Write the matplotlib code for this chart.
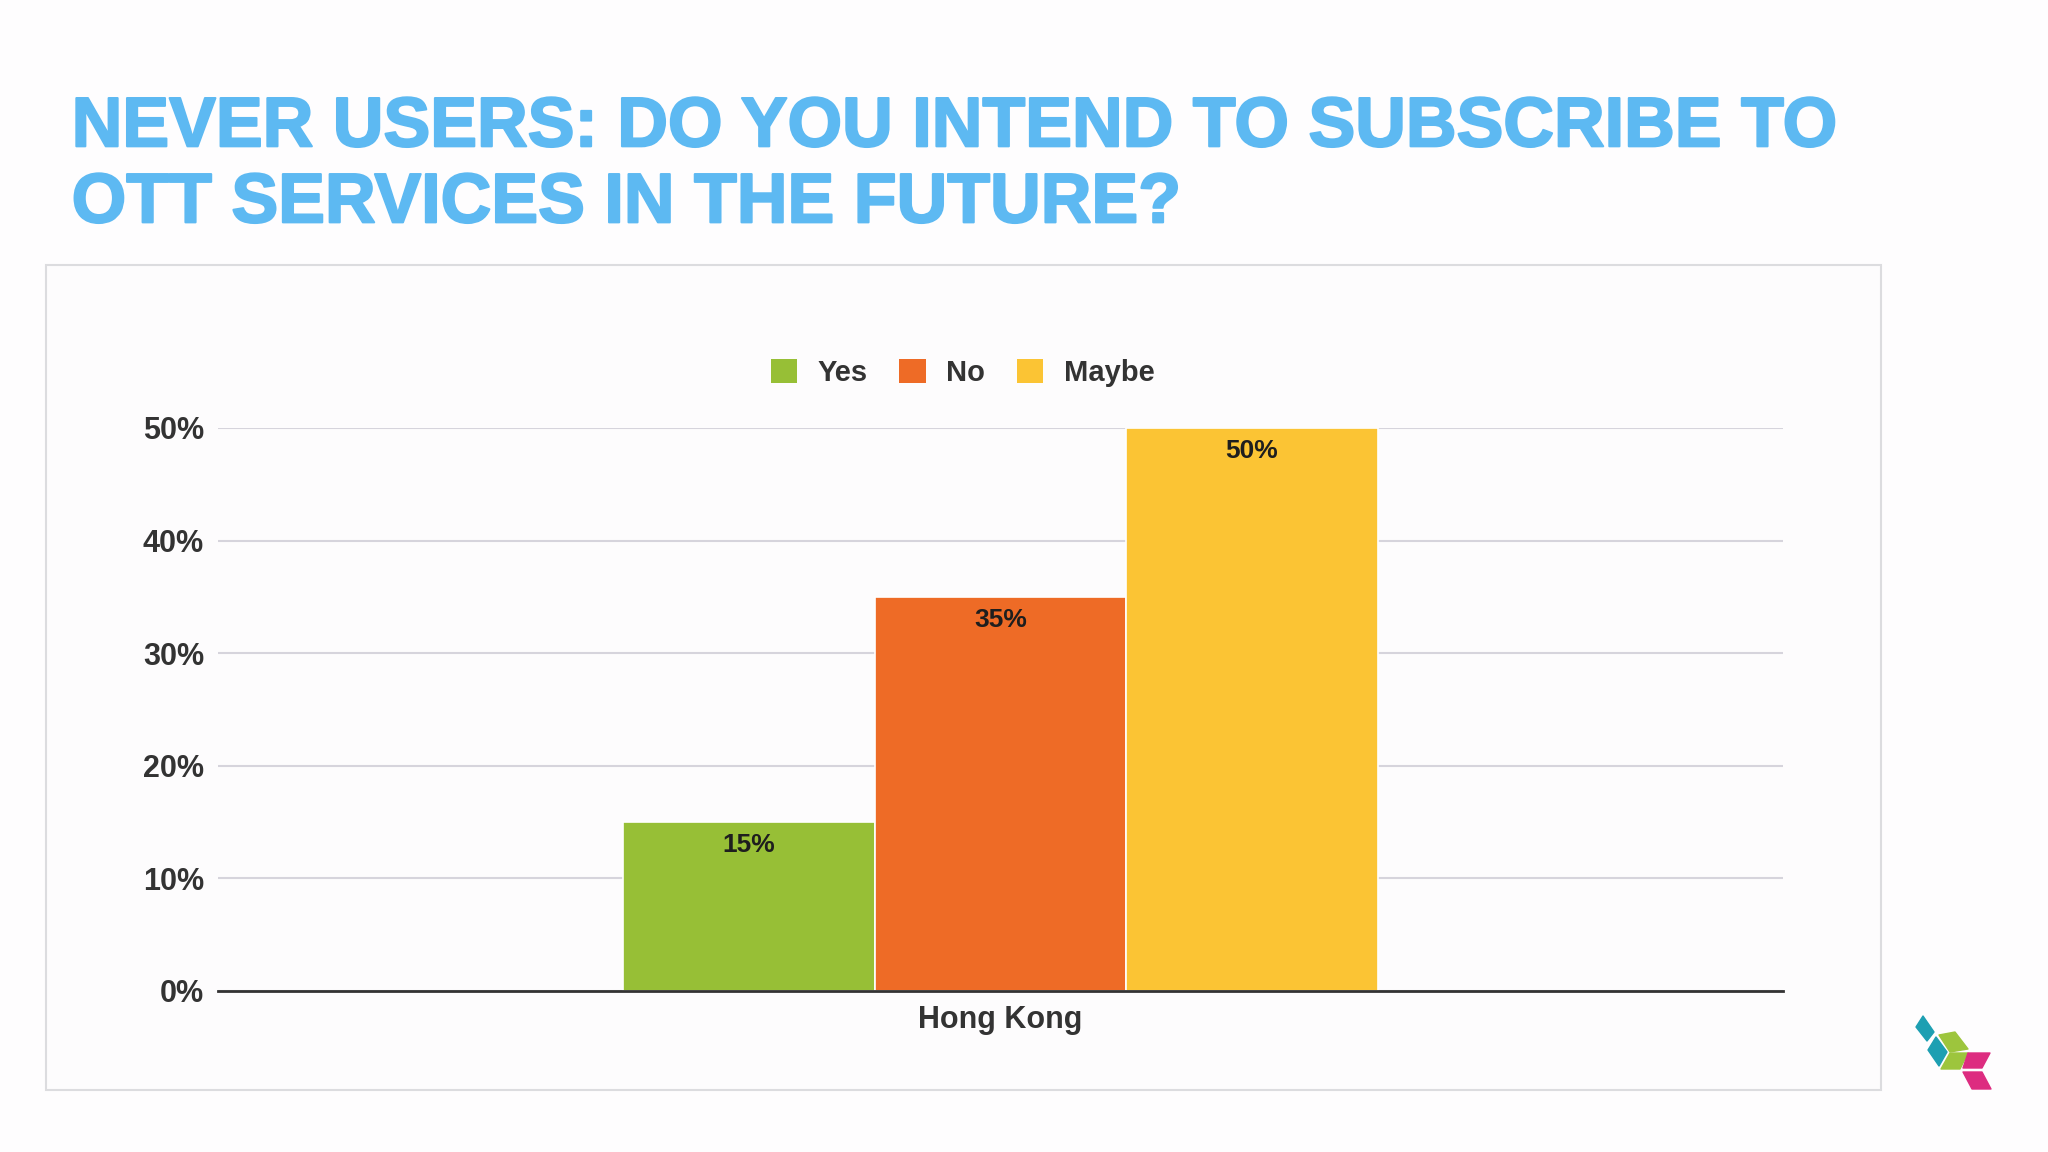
import matplotlib
matplotlib.use('agg')
import matplotlib.pyplot as plt
import matplotlib.patheffects as pe
from matplotlib.patches import Rectangle, Polygon, Patch
from matplotlib.ticker import FuncFormatter

plt.rcParams['font.family'] = ['Liberation Sans', 'DejaVu Sans']

# data
region = 'Hong Kong'
answers = ['Yes', 'No', 'Maybe']
shares = [0.15, 0.35, 0.50]
colors = ['#97bf36', '#ee6b26', '#fbc434']
yticks = [0, 0.1, 0.2, 0.3, 0.4, 0.5]

TEXT = '#333333'
BLUE = '#5db9f2'

fig = plt.figure(figsize=(20.48, 11.52), dpi=100, facecolor='#fefdfe')

# chart frame
fig.patches.append(Rectangle((0.0225, 0.0538), 0.896, 0.7162, transform=fig.transFigure,
                             facecolor='#fdfcfd', edgecolor='#dcdcdf', lw=1.5, zorder=-5))

# title
heavy = [pe.withStroke(linewidth=1.5, foreground=BLUE)]
fig.text(0.035, 0.873, 'NEVER USERS: DO YOU INTEND TO SUBSCRIBE TO', fontsize=50.5,
         fontweight='bold', color=BLUE, va='baseline', ha='left', path_effects=heavy)
fig.text(0.035, 0.807, 'OTT SERVICES IN THE FUTURE?', fontsize=50.5,
         fontweight='bold', color=BLUE, va='baseline', ha='left', path_effects=heavy)

ax = fig.add_axes([0.1064, 0.1398, 0.7642, 0.4887])
ax.set_facecolor('none')

w = 0.1607
xs = [-w, 0, w]
bars = ax.bar(xs, shares, width=w, color=colors, edgecolor='white', linewidth=1.2, zorder=3)
for x, v in zip(xs, shares):
    ax.text(x, v - 0.01, '{:.0f}%'.format(v * 100), ha='center', va='top',
            fontsize=19, fontweight='bold', color='#1e1e1e', zorder=4)

ax.set_xlim(-0.5, 0.5)
ax.set_ylim(0, 0.5)
ax.set_yticks(yticks)
ax.yaxis.set_major_formatter(FuncFormatter(lambda v, _: '{:.0f}%'.format(v * 100)))
ax.set_xticks([0])
ax.set_xticklabels([region])
ax.tick_params(axis='both', length=0, labelsize=22, labelcolor=TEXT)
ax.tick_params(axis='y', pad=10)
ax.tick_params(axis='x', pad=10)
for lab in ax.get_xticklabels() + ax.get_yticklabels():
    lab.set_fontweight('bold')

ax.grid(axis='y', color='#d6d4dc', lw=1.5, zorder=0)
for s in ['top', 'right', 'left']:
    ax.spines[s].set_visible(False)
ax.spines['bottom'].set_color('#333333')
ax.spines['bottom'].set_linewidth(2)
ax.spines['bottom'].set_zorder(5)

handles = [Patch(facecolor=c, edgecolor='none', label=a) for a, c in zip(answers, colors)]
leg = fig.legend(handles=handles, loc='center', bbox_to_anchor=(0.470, 0.676), ncol=3,
                 frameon=False, handlelength=0.9, handleheight=0.9, handletextpad=0.7,
                 columnspacing=1.1, prop={'size': 21, 'weight': 'bold'})
for t in leg.get_texts():
    t.set_color(TEXT)

# logo (pixel corners on the 2048x1152 canvas)
logo = [
    ('#1d9fb2', [(1916, 1027), (1923, 1016), (1934, 1032), (1927, 1041)]),
    ('#1d9fb2', [(1928, 1050), (1936, 1037), (1947, 1052), (1939, 1066)]),
    ('#9dc53d', [(1939, 1035), (1955, 1032), (1968, 1049), (1950, 1052)]),
    ('#9dc53d', [(1950, 1053), (1968, 1053), (1960, 1069), (1941, 1069)]),
    ('#dd2c80', [(1968, 1053), (1990, 1053), (1982, 1068), (1963, 1068)]),
    ('#dd2c80', [(1963, 1072), (1982, 1072), (1991, 1089), (1972, 1089)]),
]
for c, pts in logo:
    fig.patches.append(Polygon([(x / 2048, 1 - y / 1152) for x, y in pts], closed=True,
                               transform=fig.transFigure, facecolor=c, edgecolor=c,
                               lw=1, joinstyle='round'))

fig.savefig('out.png', dpi=100, facecolor=fig.get_facecolor())
